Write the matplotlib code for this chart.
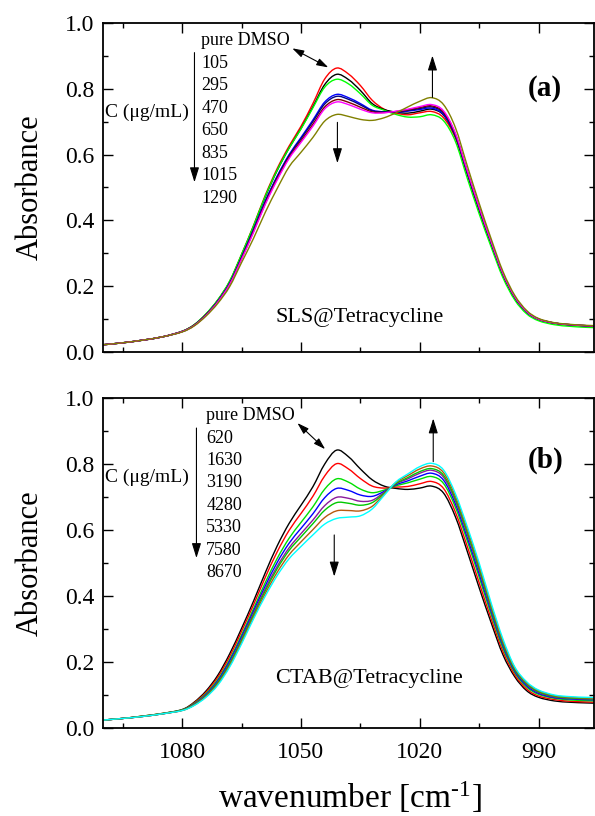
import matplotlib
matplotlib.use("Agg")
import matplotlib.pyplot as plt
from matplotlib.ticker import MultipleLocator, FormatStrFormatter
from matplotlib.path import Path
from matplotlib.patches import PathPatch

plt.rcParams["font.family"] = ["Liberation Serif", "DejaVu Serif"]
plt.rcParams["mathtext.fontset"] = "custom"
plt.rcParams["mathtext.rm"] = "Liberation Serif"
plt.rcParams["mathtext.it"] = "Liberation Serif:italic"
plt.rcParams["mathtext.bf"] = "Liberation Serif:bold"

# wavenumber grid (cm^-1) shared by all spectra
wavenumber = [1100, 1095, 1090, 1085, 1080, 1077, 1074, 1071, 1068, 1065,
              1062, 1059, 1056, 1053, 1050, 1047, 1044, 1041, 1038, 1035,
              1032, 1029, 1026, 1023, 1020, 1017, 1014, 1011, 1008, 1005,
              1002, 999, 996, 993, 990, 986, 982, 978, 975]

# ---- (a) SLS@Tetracycline ----
sls_labels = ["pure DMSO", "105", "295", "470", "650", "835", "1015", "1290"]
sls_colors = ["#FF0000", "#000000", "#00FF00", "#0000FF", "#000080",
              "#800000", "#FF00FF", "#808000"]
sls_red = [.022, .028, .036, .046, .063, .082, .115, .158, .215, .297,
           .384, .477, .558, .626, .686, .755, .830, .863, .845, .810,
           .765, .738, .726, .721, .727, .731, .712, .650, .540, .430,
           .330, .235, .165, .122, .100, .088, .083, .080, .079]
sls_black = [.022, .028, .036, .046, .063, .082, .114, .157, .213, .294,
             .380, .472, .552, .620, .679, .745, .813, .844, .828, .795,
             .755, .737, .729, .726, .732, .738, .720, .655, .542, .432,
             .331, .235, .165, .121, .099, .087, .082, .079, .078]
sls_green = [.022, .028, .036, .046, .063, .083, .116, .159, .216, .297,
             .383, .474, .553, .620, .678, .742, .805, .829, .815, .785,
             .750, .735, .722, .714, .715, .721, .703, .640, .528, .420,
             .320, .226, .158, .116, .095, .083, .078, .075, .074]
sls_blue = [.022, .028, .036, .046, .062, .081, .113, .155, .210, .288,
            .372, .460, .535, .600, .652, .705, .760, .783, .773, .755,
            .735, .730, .729, .732, .737, .741, .722, .657, .545, .435,
            .333, .237, .166, .122, .100, .088, .083, .080, .079]
sls_navy = [.022, .028, .036, .046, .062, .081, .113, .154, .209, .287,
            .370, .457, .532, .597, .648, .700, .754, .777, .768, .751,
            .733, .730, .730, .734, .740, .745, .726, .660, .547, .437,
            .334, .238, .167, .123, .100, .088, .083, .080, .079]
sls_wine = [.022, .028, .036, .046, .062, .081, .112, .153, .207, .284,
            .366, .452, .527, .592, .642, .692, .745, .767, .759, .744,
            .730, .728, .731, .736, .743, .748, .729, .662, .549, .438,
            .335, .238, .167, .123, .100, .088, .083, .080, .079]
sls_magenta = [.022, .028, .036, .046, .062, .080, .111, .152, .206, .282,
               .363, .449, .523, .588, .637, .686, .739, .760, .752, .738,
               .727, .727, .732, .738, .746, .752, .733, .665, .551, .440,
               .336, .239, .168, .123, .100, .088, .083, .080, .079]
sls_olive = [.022, .028, .036, .046, .061, .079, .109, .148, .199, .272,
             .345, .425, .497, .563, .607, .652, .702, .722, .716, .707,
             .704, .712, .727, .745, .762, .773, .752, .682, .566, .452,
             .345, .245, .172, .126, .102, .089, .084, .081, .080]
sls_spectra = [sls_red, sls_black, sls_green, sls_blue, sls_navy,
               sls_wine, sls_magenta, sls_olive]

# ---- (b) CTAB@Tetracycline ----
ctab_labels = ["pure DMSO", "620", "1630", "3190", "4280", "5330", "7580", "8670"]
ctab_colors = ["#000000", "#FF0000", "#00E000", "#0000FF", "#8B1A9B",
               "#00C800", "#B8580F", "#00FFFF"]
ctab_black = [.024, .029, .036, .044, .056, .078, .112, .160, .225, .302,
              .384, .471, .552, .620, .675, .731, .800, .842, .822, .785,
              .752, .733, .726, .723, .727, .733, .712, .640, .535, .425,
              .320, .222, .155, .113, .093, .082, .078, .076, .075]
ctab_red = [.024, .029, .036, .044, .055, .076, .108, .154, .217, .293,
            .373, .457, .534, .599, .650, .702, .764, .801, .785, .756,
            .733, .727, .730, .732, .740, .747, .726, .654, .550, .440,
            .332, .232, .161, .118, .097, .086, .081, .079, .078]
ctab_green = [.024, .029, .036, .044, .055, .074, .104, .147, .208, .282,
              .361, .441, .514, .575, .623, .670, .724, .755, .745, .724,
              .713, .721, .734, .743, .754, .762, .741, .669, .567, .457,
              .345, .242, .168, .124, .102, .090, .085, .083, .082]
ctab_blue = [.024, .029, .035, .043, .054, .072, .101, .143, .203, .276,
             .354, .431, .502, .560, .605, .649, .698, .726, .720, .706,
             .702, .717, .737, .749, .763, .772, .751, .679, .577, .467,
             .354, .249, .172, .128, .105, .092, .088, .086, .085]
ctab_purple = [.024, .029, .035, .043, .054, .071, .099, .139, .197, .270,
               .347, .422, .490, .546, .589, .630, .674, .699, .696, .687,
               .690, .714, .740, .755, .772, .781, .760, .688, .587, .477,
               .361, .255, .176, .132, .108, .094, .090, .088, .087]
ctab_green2 = [.024, .029, .035, .043, .054, .070, .097, .137, .194, .266,
               .342, .416, .483, .538, .579, .619, .660, .683, .681, .675,
               .683, .711, .741, .759, .777, .786, .766, .694, .593, .483,
               .366, .258, .178, .134, .110, .096, .091, .089, .088]
ctab_brown = [.024, .029, .035, .043, .053, .069, .095, .133, .189, .260,
              .336, .408, .472, .525, .564, .601, .638, .658, .659, .658,
              .672, .708, .744, .765, .785, .794, .774, .702, .602, .492,
              .373, .263, .182, .137, .113, .098, .093, .091, .090]
ctab_cyan = [.024, .029, .035, .043, .053, .068, .093, .130, .185, .255,
             .330, .400, .462, .513, .550, .585, .618, .635, .639, .643,
             .664, .705, .746, .770, .792, .802, .782, .710, .610, .500,
             .380, .270, .185, .140, .115, .100, .095, .093, .092]
ctab_spectra = [ctab_black, ctab_red, ctab_green, ctab_blue, ctab_purple,
                ctab_green2, ctab_brown, ctab_cyan]

W, H = 595, 816
fig = plt.figure(figsize=(W / 100, H / 100), dpi=100)


def px_axes(left, top, right, bottom):
    return fig.add_axes([left / W, 1 - bottom / H, (right - left) / W, (bottom - top) / H])


def spline_line(ax, xs, ys, color, lw=1.0):
    """Smooth (spline-connected) line through every data point."""
    n = len(xs)
    pts = list(zip(xs, ys))
    verts = [pts[0]]
    codes = [Path.MOVETO]
    for i in range(n - 1):
        p0 = pts[max(i - 1, 0)]
        p1 = pts[i]
        p2 = pts[i + 1]
        p3 = pts[min(i + 2, n - 1)]
        c1 = (p1[0] + (p2[0] - p0[0]) / 6.0, p1[1] + (p2[1] - p0[1]) / 6.0)
        c2 = (p2[0] - (p3[0] - p1[0]) / 6.0, p2[1] - (p3[1] - p1[1]) / 6.0)
        verts += [c1, c2, p2]
        codes += [Path.CURVE4] * 3
    ax.add_patch(PathPatch(Path(verts, codes), facecolor="none",
                           edgecolor=color, lw=lw))


ax_a = px_axes(103, 23, 594, 352)
ax_b = px_axes(103, 398, 594, 728)

for ax in (ax_a, ax_b):
    ax.set_xlim(1100, 976)
    ax.set_ylim(0, 1.0)
    ax.xaxis.set_major_locator(MultipleLocator(30))
    ax.xaxis.set_minor_locator(MultipleLocator(15))
    ax.yaxis.set_major_locator(MultipleLocator(0.2))
    ax.yaxis.set_minor_locator(MultipleLocator(0.1))
    ax.yaxis.set_major_formatter(FormatStrFormatter("%.1f"))
    ax.tick_params(which="both", direction="in", top=True, right=True,
                   width=1.0, labelsize=17)
    ax.tick_params(which="major", length=7)
    ax.tick_params(which="minor", length=3.5)
    ax.tick_params(axis="x", pad=10)
    ax.tick_params(axis="y", pad=6)
    for s in ax.spines.values():
        s.set_linewidth(1.3)

ax_a.tick_params(axis="x", labelbottom=False)

for y, c in zip(sls_spectra, sls_colors):
    spline_line(ax_a, wavenumber, y, c)
for y, c in zip(ctab_spectra, ctab_colors):
    spline_line(ax_b, wavenumber, y, c)

arrow1 = dict(arrowstyle="-|>,head_length=0.9,head_width=0.28", color="black",
              lw=0.8, shrinkA=0, shrinkB=0)
arrow2 = dict(arrowstyle="<|-|>,head_length=0.7,head_width=0.22", color="black",
              lw=0.8, shrinkA=0, shrinkB=0)


def annotate_panel(ax, labels, x_list, base0, step, cx, cy, vx, vy0, vy1,
                   dbl, down, up, tag, tag_xy, name, name_xy):
    for i, lab in enumerate(labels):
        ax.text(x_list, base0 - i * step, lab, fontsize=13, ha="left", va="baseline")
    ax.text(cx, cy, "C (\u03bcg/mL)", fontsize=14, ha="left", va="baseline")
    ax.annotate("", xy=(vx, vy1), xytext=(vx, vy0), arrowprops=arrow1)
    ax.annotate("", xy=dbl[1], xytext=dbl[0], arrowprops=arrow2)
    ax.annotate("", xy=down[1], xytext=down[0], arrowprops=arrow1)
    ax.annotate("", xy=up[1], xytext=up[0], arrowprops=arrow1)
    ax.text(tag_xy[0], tag_xy[1], tag, fontsize=21, fontweight="bold",
            ha="center", va="center")
    ax.text(name_xy[0], name_xy[1], name, fontsize=16, ha="left", va="baseline")


annotate_panel(ax_a, sls_labels, 1075.2, 0.932, 0.0683, 1099.4, 0.714,
               1076.9, 0.910, 0.516,
               ((1052.2, 0.923), (1043.1, 0.865)),
               ((1040.8, 0.698), (1040.8, 0.574)),
               ((1016.8, 0.774), (1016.8, 0.901)),
               "(a)", (988.3, 0.801), "SLS@Tetracycline", (1056.5, 0.092))

annotate_panel(ax_b, ctab_labels, 1073.9, 0.933, 0.068, 1099.4, 0.745,
               1076.4, 0.909, 0.515,
               ((1050.9, 0.924), (1043.9, 0.845)),
               ((1041.6, 0.585), (1041.6, 0.459)),
               ((1016.6, 0.807), (1016.6, 0.938)),
               "(b)", (988.3, 0.812), "CTAB@Tetracycline", (1056.5, 0.135))

fig.text(30 / W, 1 - 187 / H, "Absorbance", rotation=90, fontsize=22,
         ha="center", va="center")
fig.text(30 / W, 1 - 563 / H, "Absorbance", rotation=90, fontsize=22,
         ha="center", va="center")
fig.text(350 / W, 1 - 808 / H, "wavenumber [cm$^{\\mathrm{\u2010}1}$]", fontsize=24,
         ha="center", va="baseline")

fig.savefig("out.png", dpi=100)
